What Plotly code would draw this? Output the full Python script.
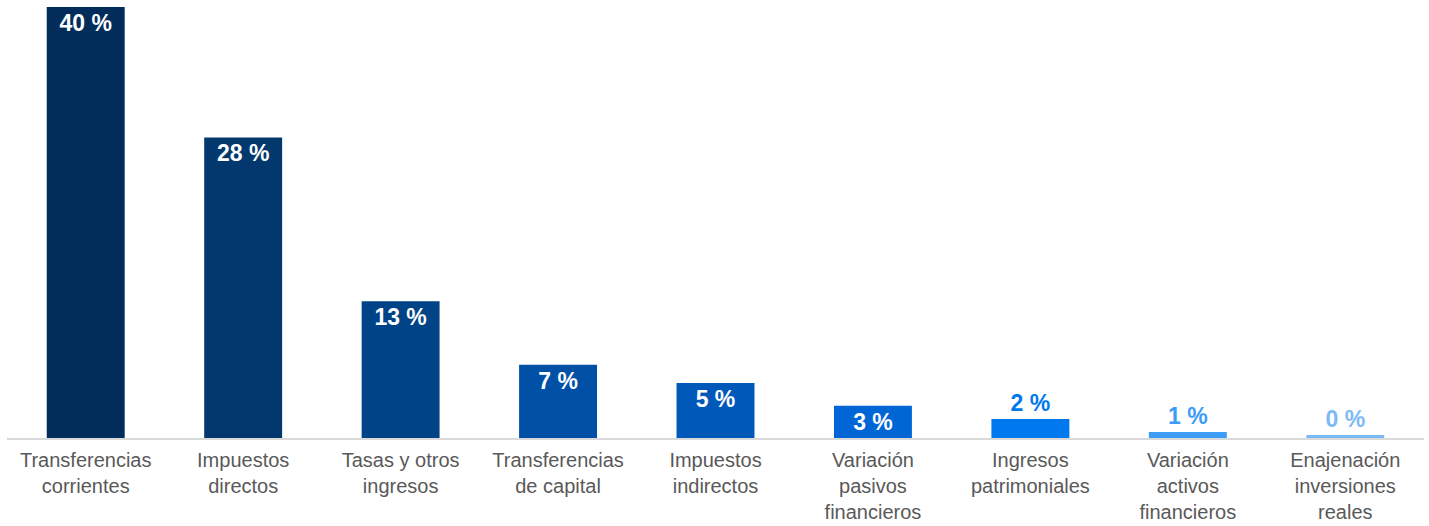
import plotly.graph_objects as go

categories = [
    "Transferencias<br>corrientes",
    "Impuestos<br>directos",
    "Tasas y otros<br>ingresos",
    "Transferencias<br>de capital",
    "Impuestos<br>indirectos",
    "Variación<br>pasivos<br>financieros",
    "Ingresos<br>patrimoniales",
    "Variación<br>activos<br>financieros",
    "Enajenación<br>inversiones<br>reales",
]
shares = [40.0, 27.9, 12.7, 6.8, 5.1, 3.0, 1.76, 0.56, 0.28]
bar_colors = ["#022d5b", "#03386e", "#004387", "#0050a6", "#0059b8",
              "#0066d6", "#0078ee", "#3c9cf6", "#7cbaf6"]

# big bars get the label inside, the small ones above
text_pos = ["inside"] * 6 + ["outside"] * 3
text_colors = ["white"] * 6 + bar_colors[6:]

fig = go.Figure()
fig.add_trace(go.Bar(
    x=categories,
    y=shares,
    marker=dict(color=bar_colors, line=dict(width=0)),
    texttemplate="<b>%{y:.0f} %</b>",
    textposition=text_pos,
    insidetextanchor="end",
    constraintext="none",
    textfont=dict(family="Liberation Sans, Arial", size=23, color=text_colors),
    cliponaxis=False,
))

fig.update_layout(
    width=1429,
    height=526,
    margin=dict(l=7, r=5, t=7, b=88),
    paper_bgcolor="white",
    plot_bgcolor="white",
    bargap=0.505,
    showlegend=False,
    font=dict(family="Liberation Sans, Arial", color="#595959"),
)
fig.update_xaxes(
    showline=True, linecolor="#d9d9d9", linewidth=2,
    tickfont=dict(size=20, color="#595959"),
    ticklabelstandoff=3,
    automargin=False,
    ticks="", showgrid=False,
)
fig.update_yaxes(range=[0, 40], visible=False, showgrid=False)

# drop the browser's default 8px body margin so the chart sits at the page corner
fig.write_html("out.html", config={"displayModeBar": False},
               post_script="document.body.style.margin='0';")
